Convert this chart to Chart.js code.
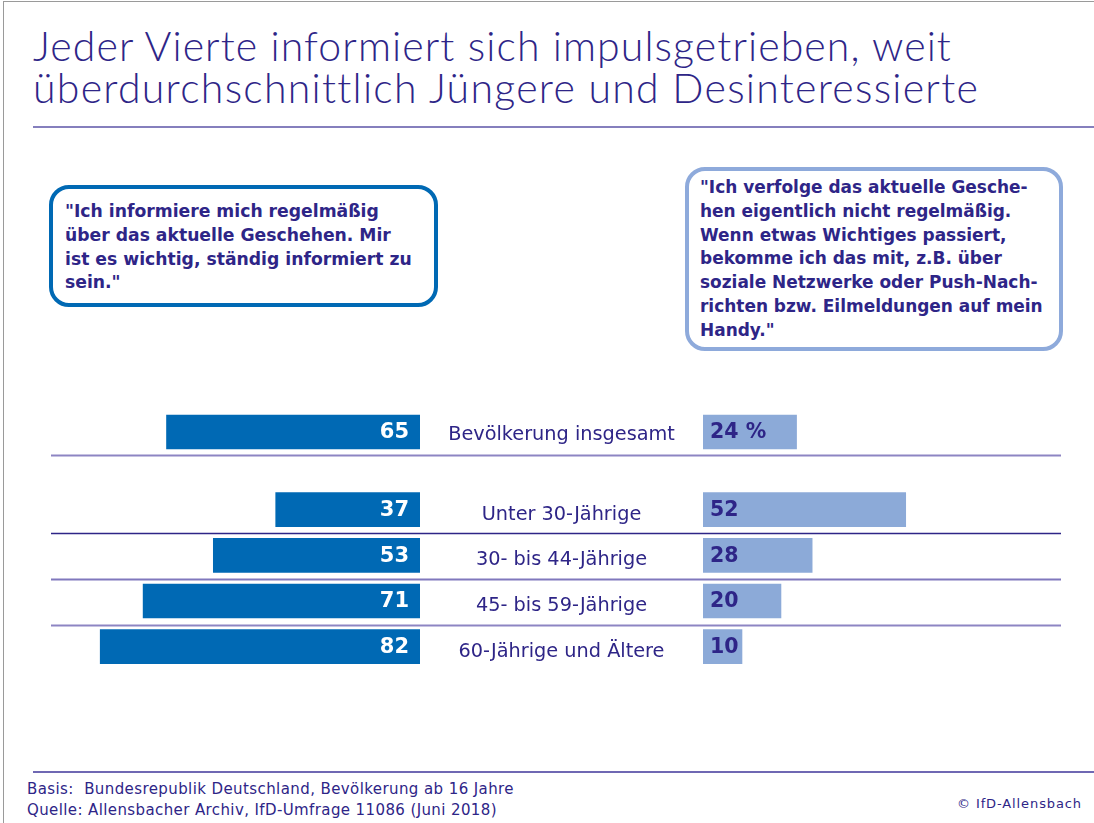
<!DOCTYPE html>
<html><head><meta charset="utf-8">
<script src="https://cdn.jsdelivr.net/npm/chart.js@4.4.1/dist/chart.umd.min.js"></script>
<style>
html,body{margin:0;padding:0;background:#fff;}
body{width:1094px;height:823px;position:relative;overflow:hidden;font-family:"DejaVu Sans",sans-serif;color:#2e2587;}
.frame{position:absolute;left:3px;top:1px;right:-2px;bottom:-2px;border-left:1px solid #9a9a9a;border-top:1px solid #9a9a9a;}
.title{position:absolute;left:33px;top:25px;font-family:"Lato",sans-serif;font-weight:300;font-size:41px;line-height:42px;color:#2e2587;white-space:nowrap;}
.title span, .foot span, .copy span{display:inline-block;}
.rule{position:absolute;left:33px;right:0;height:2px;background:#857fbd;}
.box{position:absolute;box-sizing:border-box;border-radius:20px;font-family:"DejaVu Sans",sans-serif;font-weight:bold;font-size:17.5px;line-height:23.8px;color:#2e2587;white-space:nowrap;}
.box span{display:inline-block;}
#boxL{left:49px;top:185px;width:389px;height:122px;border:4px solid #0069b4;padding:11px 0 0 12px;}
#boxR{left:685px;top:167px;width:378px;height:184px;border:4px solid #8eaadb;padding:5px 0 0 11px;}
.foot{position:absolute;left:27px;font-family:"DejaVu Sans",sans-serif;font-size:15px;line-height:21px;color:#2e2587;white-space:nowrap;}
.copy{position:absolute;left:957px;top:796px;font-family:"DejaVu Sans",sans-serif;font-size:13px;color:#2e2587;white-space:nowrap;}
canvas{position:absolute;}
</style>
</head><body>
<div class="frame"></div>
<div class="title"><span data-w="919">Jeder Vierte informiert sich impulsgetrieben, weit</span><br><span data-w="945">überdurchschnittlich Jüngere und Desinteressierte</span></div>
<div class="rule" style="top:126px"></div>
<div class="box" id="boxL" data-maxw="347"><span>"Ich informiere mich regelmäßig</span><br><span>über das aktuelle Geschehen. Mir</span><br><span>ist es wichtig, ständig informiert zu</span><br><span>sein."</span></div>
<div class="box" id="boxR" data-maxw="343"><span>"Ich verfolge das aktuelle Gesche-</span><br><span>hen eigentlich nicht regelmäßig.</span><br><span>Wenn etwas Wichtiges passiert,</span><br><span>bekomme ich das mit, z.B. über</span><br><span>soziale Netzwerke oder Push-Nach-</span><br><span>richten bzw. Eilmeldungen auf mein</span><br><span>Handy."</span></div>
<canvas id="cL" width="703" height="280" style="left:0;top:400px;width:703px;height:280px"></canvas>
<canvas id="cR" width="391" height="280" style="left:703px;top:400px;width:391px;height:280px"></canvas>
<div class="rule" style="top:771px;height:1.5px;background:#6f68b3"></div>
<div class="foot" style="top:779px"><span data-w="487">Basis:&nbsp; Bundesrepublik Deutschland, Bevölkerung ab 16 Jahre</span><br><span data-w="470">Quelle: Allensbacher Archiv, IfD-Umfrage 11086 (Juni 2018)</span></div>
<div class="copy"><span data-w="125">© IfD-Allensbach</span></div>
<script>
// ---- data ----
const categories = ["Bevölkerung insgesamt", "Unter 30-Jährige", "30- bis 44-Jährige", "45- bis 59-Jährige", "60-Jährige und Ältere"];
const regularValues = [65, 37, 53, 71, 82];   // "informiere mich regelmäßig"
const impulseValues = [24, 52, 28, 20, 10];   // "verfolge nicht regelmäßig"
const impulseLabels = ["24 %", "52", "28", "20", "10"];

// ---- text width fitting ----
document.querySelectorAll('[data-w]').forEach(el => {
  const target = +el.dataset.w;
  const w = el.getBoundingClientRect().width;
  el.style.letterSpacing = ((target - w) / el.textContent.length).toFixed(3) + 'px';
});
document.querySelectorAll('[data-maxw]').forEach(box => {
  const target = +box.dataset.maxw;
  const w = Math.max(...[...box.querySelectorAll('span')].map(s => s.getBoundingClientRect().width));
  const fs = parseFloat(getComputedStyle(box).fontSize);
  box.style.fontSize = (fs * target / w).toFixed(2) + 'px';
});

// ---- layout helpers ----
const NAVY = '#2e2587';
const rowPos = categories.map((c, i) => i === 0 ? 0 : i + 0.7); // extra gap after the total row
const sepStyles = [
  {color: '#8d85c3', width: 2},
  {color: '#2e2587', width: 1.5},
  {color: '#8078bd', width: 2},
  {color: '#8d85c3', width: 2}
];
const yScale = (extra) => Object.assign({type: 'linear', reverse: true, offset: false, min: -0.70, max: 5.43,
  grid: {display: false}, border: {display: false}, ticks: {display: false}}, extra);

function drawSeparators(chart, x0, x1) {
  const ctx = chart.ctx, y = chart.scales.y;
  ctx.save();
  sepStyles.forEach((s, i) => {
    const py = Math.round(y.getPixelForValue(rowPos[i] + 0.515)) + 0.5;
    ctx.strokeStyle = s.color; ctx.lineWidth = s.width;
    ctx.beginPath(); ctx.moveTo(x0, py); ctx.lineTo(x1, py); ctx.stroke();
  });
  ctx.restore();
}

const leftPlugin = {
  id: 'leftDecor',
  afterDatasetsDraw(chart) {
    const ctx = chart.ctx, area = chart.chartArea;
    drawSeparators(chart, 51, chart.width);
    const meta = chart.getDatasetMeta(0);
    ctx.save();
    ctx.textBaseline = 'middle';
    meta.data.forEach((bar, i) => {
      ctx.fillStyle = '#ffffff';
      ctx.font = 'bold 21px "DejaVu Sans", sans-serif';
      ctx.textAlign = 'right';
      ctx.fillText(String(regularValues[i]), bar.base - 11, bar.y + 1);
      ctx.fillStyle = NAVY;
      ctx.font = '19.3px "DejaVu Sans", sans-serif';
      ctx.textAlign = 'center';
      ctx.fillText(categories[i], (area.right + chart.width) / 2, bar.y + (i === 0 ? 3 : 5));
    });
    ctx.restore();
  }
};
const rightPlugin = {
  id: 'rightDecor',
  afterDatasetsDraw(chart) {
    const ctx = chart.ctx;
    drawSeparators(chart, 0, 358);
    const meta = chart.getDatasetMeta(0);
    ctx.save();
    ctx.textBaseline = 'middle';
    ctx.textAlign = 'left';
    ctx.fillStyle = NAVY;
    ctx.font = 'bold 20.5px "DejaVu Sans", sans-serif';
    meta.data.forEach((bar, i) => {
      ctx.fillText(impulseLabels[i], bar.base + 7, bar.y + 1);
    });
    ctx.restore();
  }
};

const common = {
  responsive: false, animation: false, indexAxis: 'y',
  layout: {padding: 0},
  plugins: {legend: {display: false}, tooltip: {enabled: false}}
};

new Chart(document.getElementById('cL'), {
  type: 'bar',
  data: {datasets: [{
    data: regularValues.map((v, i) => ({x: v, y: rowPos[i]})),
    backgroundColor: '#0069b4', barThickness: 34, borderWidth: 0
  }]},
  options: Object.assign({}, common, {
    scales: {
      x: {type: 'linear', reverse: true, min: 0, max: 107.7, display: false},
      y: yScale({position: 'right', display: true, afterFit(s) { s.width = 283; }})
    }
  }),
  plugins: [leftPlugin]
});

new Chart(document.getElementById('cR'), {
  type: 'bar',
  data: {datasets: [{
    data: impulseValues.map((v, i) => ({x: v, y: rowPos[i]})),
    backgroundColor: '#8caad8', barThickness: 34, borderWidth: 0
  }]},
  options: Object.assign({}, common, {
    scales: {
      x: {type: 'linear', min: 0, max: 100.3, display: false},
      y: yScale({display: false})
    }
  }),
  plugins: [rightPlugin]
});
</script>
</body></html>
